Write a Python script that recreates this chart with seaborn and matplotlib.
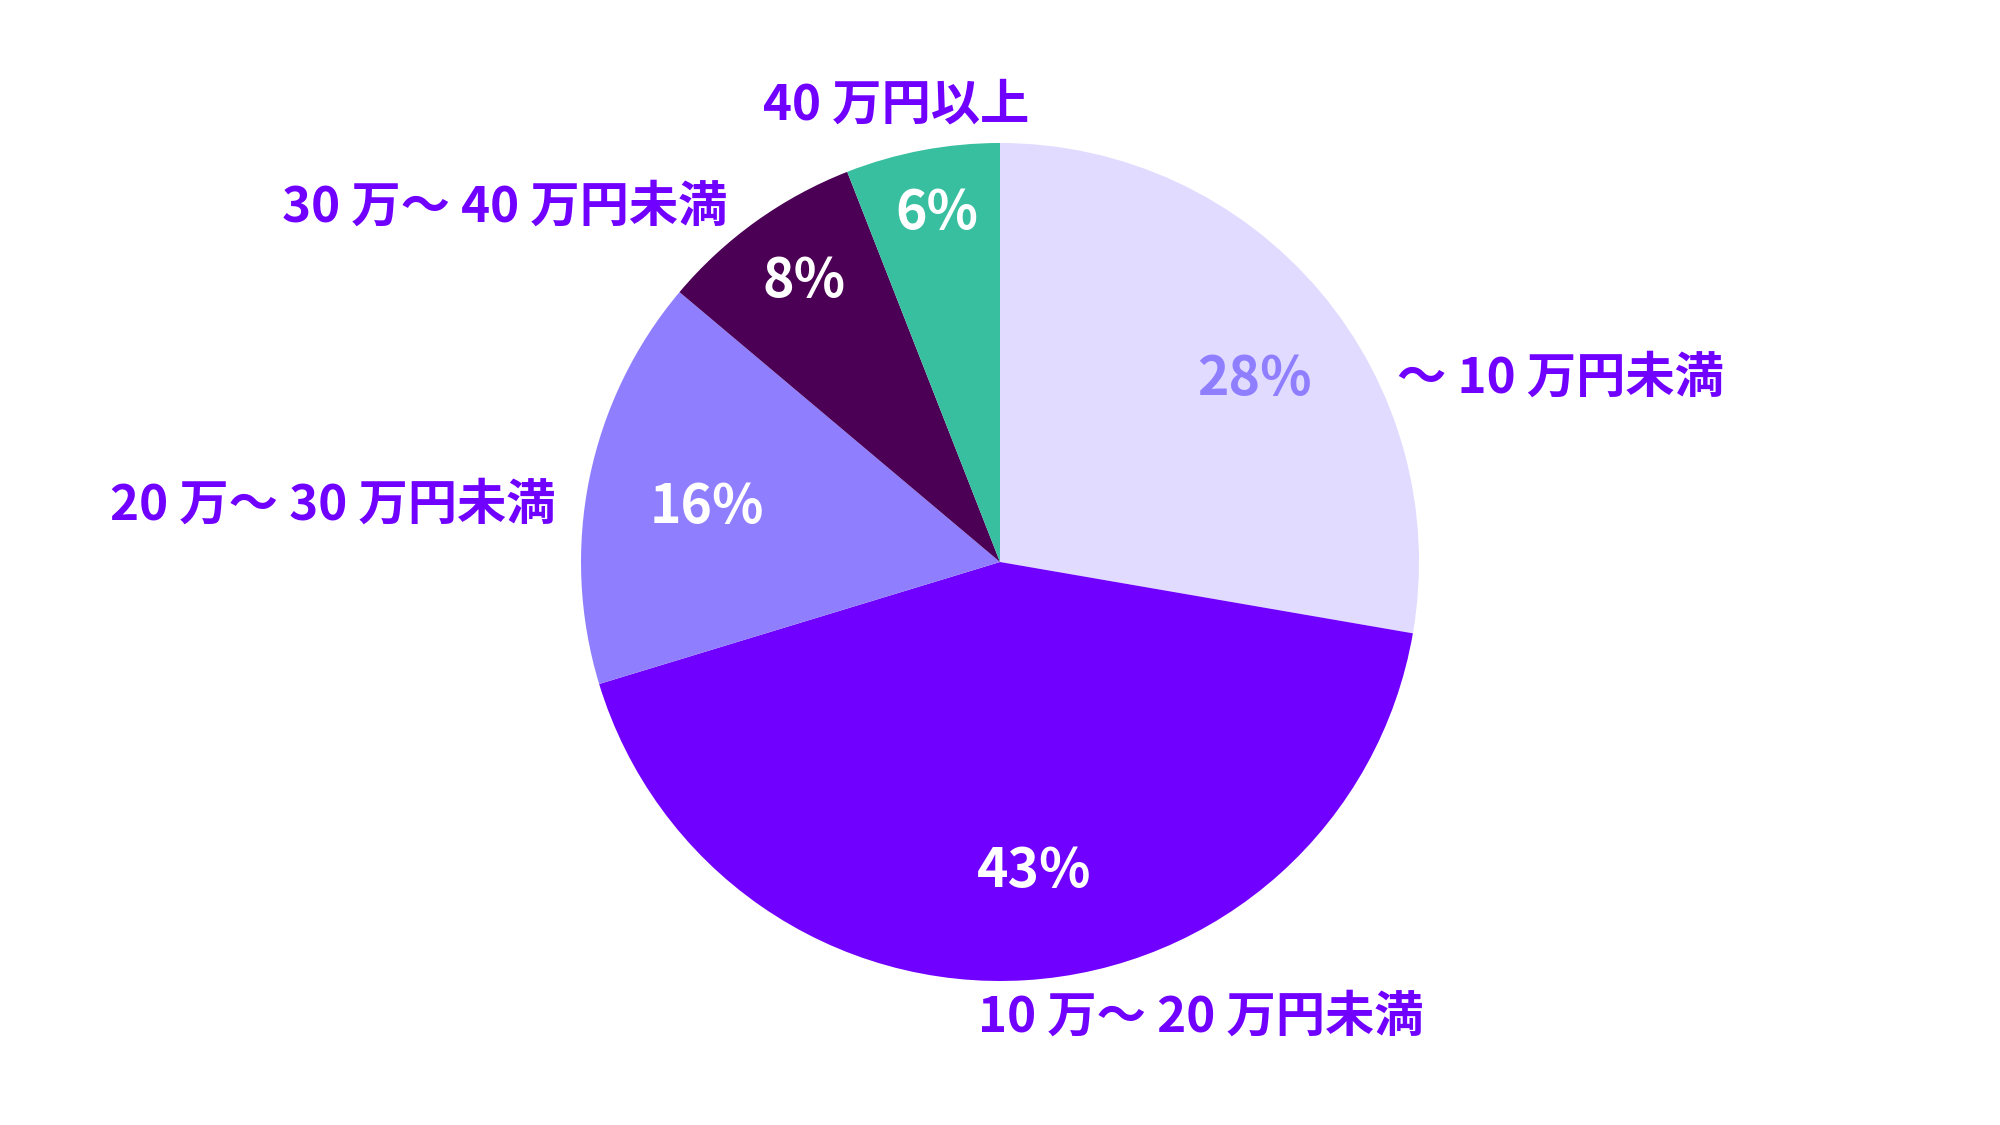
import seaborn as sns
import matplotlib.pyplot as plt

# data
categories = ['〜 10 万円未満', '10 万〜 20 万円未満', '20 万〜 30 万円未満',
              '30 万〜 40 万円未満', '40 万円以上']
shares = [28, 43, 16, 8, 6]
pct_labels = ['28%', '43%', '16%', '8%', '6%']

colors = ['#E0DBFF', '#7000FF', '#8F7FFF', '#4B0055', '#38BFA0']
pct_colors = ['#8F7FFF', 'white', 'white', 'white', 'white']

# text layout, pixels from top-left
pct_pos = [(1254, 380), (1034, 871), (707, 508), (804, 282), (937, 214)]
label_pos = [(1397, 378), (978, 1017), (556, 505), (727, 207), (896, 105)]
label_ha = ['left', 'left', 'right', 'right', 'center']

sns.set_theme(style='white')
plt.rcParams['font.family'] = ['Noto Sans CJK JP', 'DejaVu Sans']

W, H = 2000, 1125
fig = plt.figure(figsize=(20, 11.25), dpi=100)
ax = fig.add_axes([0, 0, 1, 1])

cx, cy, r = 1000, H - 562, 419
ax.pie(shares, colors=colors, startangle=90, counterclock=False,
       center=(cx, cy), radius=r, frame=True,
       wedgeprops=dict(linewidth=0))
ax.set_xlim(0, W)
ax.set_ylim(0, H)
ax.set_aspect('equal')
ax.axis('off')

for txt, c, (px, py) in zip(pct_labels, pct_colors, pct_pos):
    ax.text(px, H - py, txt, ha='center', va='center', color=c,
            fontsize=38.5, fontweight='bold')

for name, (px, py), ha in zip(categories, label_pos, label_ha):
    ax.text(px, H - py, name, ha=ha, va='center', color='#7000FF',
            fontsize=35.5, fontweight='bold')

fig.savefig('out.png', dpi=100, facecolor='white')
